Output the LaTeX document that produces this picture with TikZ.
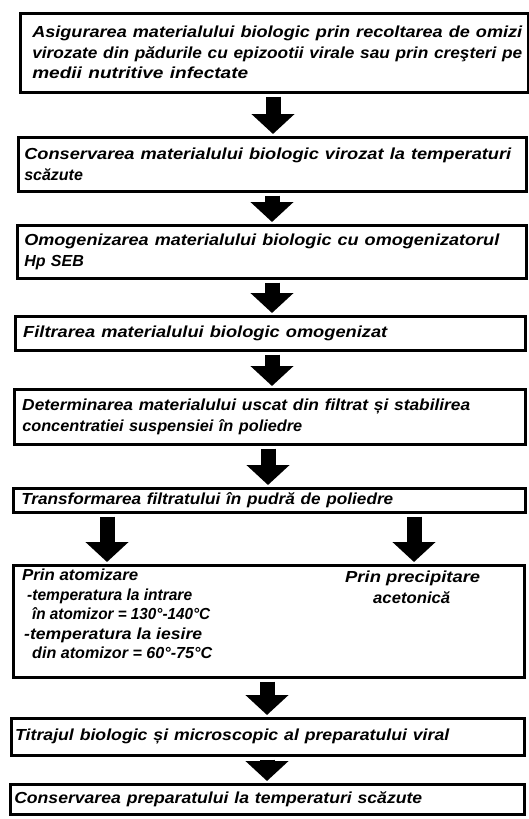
\documentclass[tikz,border=0pt]{standalone}
\usepackage{fontspec}
\setmainfont{Liberation Sans}
\usetikzlibrary{arrows.meta}
\newcommand\fitw[2]{\resizebox{#1}{\height}{#2}}
\begin{document}
\begin{tikzpicture}[x=1pt,y=-1pt,
  txt/.style={font=\fontsize{16}{20.5}\selectfont\bfseries\itshape},
  box/.style={draw, line width=2.5pt, anchor=north west, inner ysep=0pt,
    align=left, txt},
  lbl/.style={inner sep=0pt, anchor=base west, txt},
  bigarrow/.style={line width=15pt, -{Triangle[width=42pt,length=20pt]},
    shorten <=3pt, shorten >=2pt}]
\useasboundingbox (0,0) rectangle (529,819);
\fill[white] (0,0) rectangle (529,819);
% boxes
\node[box, minimum width=508pt, minimum height=79pt, inner xsep=12pt, text width=484pt] (b1) at (19,12)
  {\fitw{490pt}{Asigurarea materialului biologic prin recoltarea de omizi}\\
   \fitw{490pt}{virozate din pădurile cu epizootii virale sau prin creşteri pe}\\
   \fitw{216pt}{medii nutritive infectate}};
\node[box, minimum width=508pt, minimum height=54pt, inner xsep=6pt, text width=496pt] (b2) at (17,136)
  {\fitw{487pt}{Conservarea materialului biologic virozat la temperaturi}\\ scăzute};
\node[box, minimum width=509pt, minimum height=53pt, inner xsep=7pt, text width=495pt] (b3) at (16,224)
  {\fitw{475pt}{Omogenizarea materialului biologic cu omogenizatorul}\\ Hp SEB};
\node[box, minimum width=510pt, minimum height=34pt, inner xsep=8pt, text width=494pt] (b4) at (14,315)
  {\fitw{364pt}{Filtrarea materialului biologic omogenizat}};
\node[box, minimum width=511pt, minimum height=55pt, inner xsep=8pt, text width=495pt] (b5) at (13,388)
  {\fitw{448pt}{Determinarea materialului uscat din filtrat și stabilirea}\\
   \fitw{280pt}{concentratiei suspensiei în poliedre}};
\node[box, minimum width=512pt, minimum height=24pt, inner xsep=8pt, text width=496pt] (b6) at (12,487)
  {\fitw{372pt}{Transformarea filtratului în pudră de poliedre}};
\node[box, minimum width=511pt, minimum height=112pt] (b7) at (12,564) {};
\node[box, minimum width=513pt, minimum height=37pt, inner xsep=4pt, text width=505pt] (b8) at (10,717)
  {\fitw{434pt}{Titrajul biologic și microscopic al preparatului viral}};
\node[box, minimum width=514pt, minimum height=30pt, inner xsep=4pt, text width=506pt] (b9) at (9,783)
  {\fitw{408pt}{Conservarea preparatului la temperaturi scăzute}};
% texts of the split box
\node[lbl] (t1) at (22,580) {\fitw{116pt}{Prin atomizare}};
\node[lbl] (t2) at (27,600) {\fitw{165pt}{-temperatura la intrare}};
\node[lbl] (t3) at (32,619) {\fitw{178pt}{în atomizor = 130°-140°C}};
\node[lbl] (t4) at (24,639) {\fitw{178pt}{-temperatura la iesire}};
\node[lbl] (t5) at (32,658) {\fitw{180pt}{din atomizor = 60°-75°C}};
\node[lbl] (t6) at (345,582) {\fitw{135pt}{Prin precipitare}};
\node[lbl] (t7) at (373,603) {\fitw{77pt}{acetonică}};
% arrow axes
\coordinate (a1) at (273,0);
\coordinate (a2) at (272,0);
\coordinate (a5) at (268,0);
\coordinate (al) at (107,0);
\coordinate (ar) at (414,0);
\coordinate (a7) at (267,0);
% arrows
\draw[bigarrow] (b1.south -| a1) -- (b2.north -| a1);
\draw[bigarrow] (b2.south -| a2) -- (b3.north -| a2);
\draw[bigarrow] (b3.south -| a2) -- (b4.north -| a2);
\draw[bigarrow] (b4.south -| a2) -- (b5.north -| a2);
\draw[bigarrow] (b5.south -| a5) -- (b6.north -| a5);
\draw[bigarrow] (b6.south -| al) -- (b7.north -| al);
\draw[bigarrow] (b6.south -| ar) -- (b7.north -| ar);
\draw[bigarrow] (b7.south -| a7) -- (b8.north -| a7);
\draw[bigarrow] (b8.south -| a7) -- (b9.north -| a7);
\end{tikzpicture}
\end{document}
